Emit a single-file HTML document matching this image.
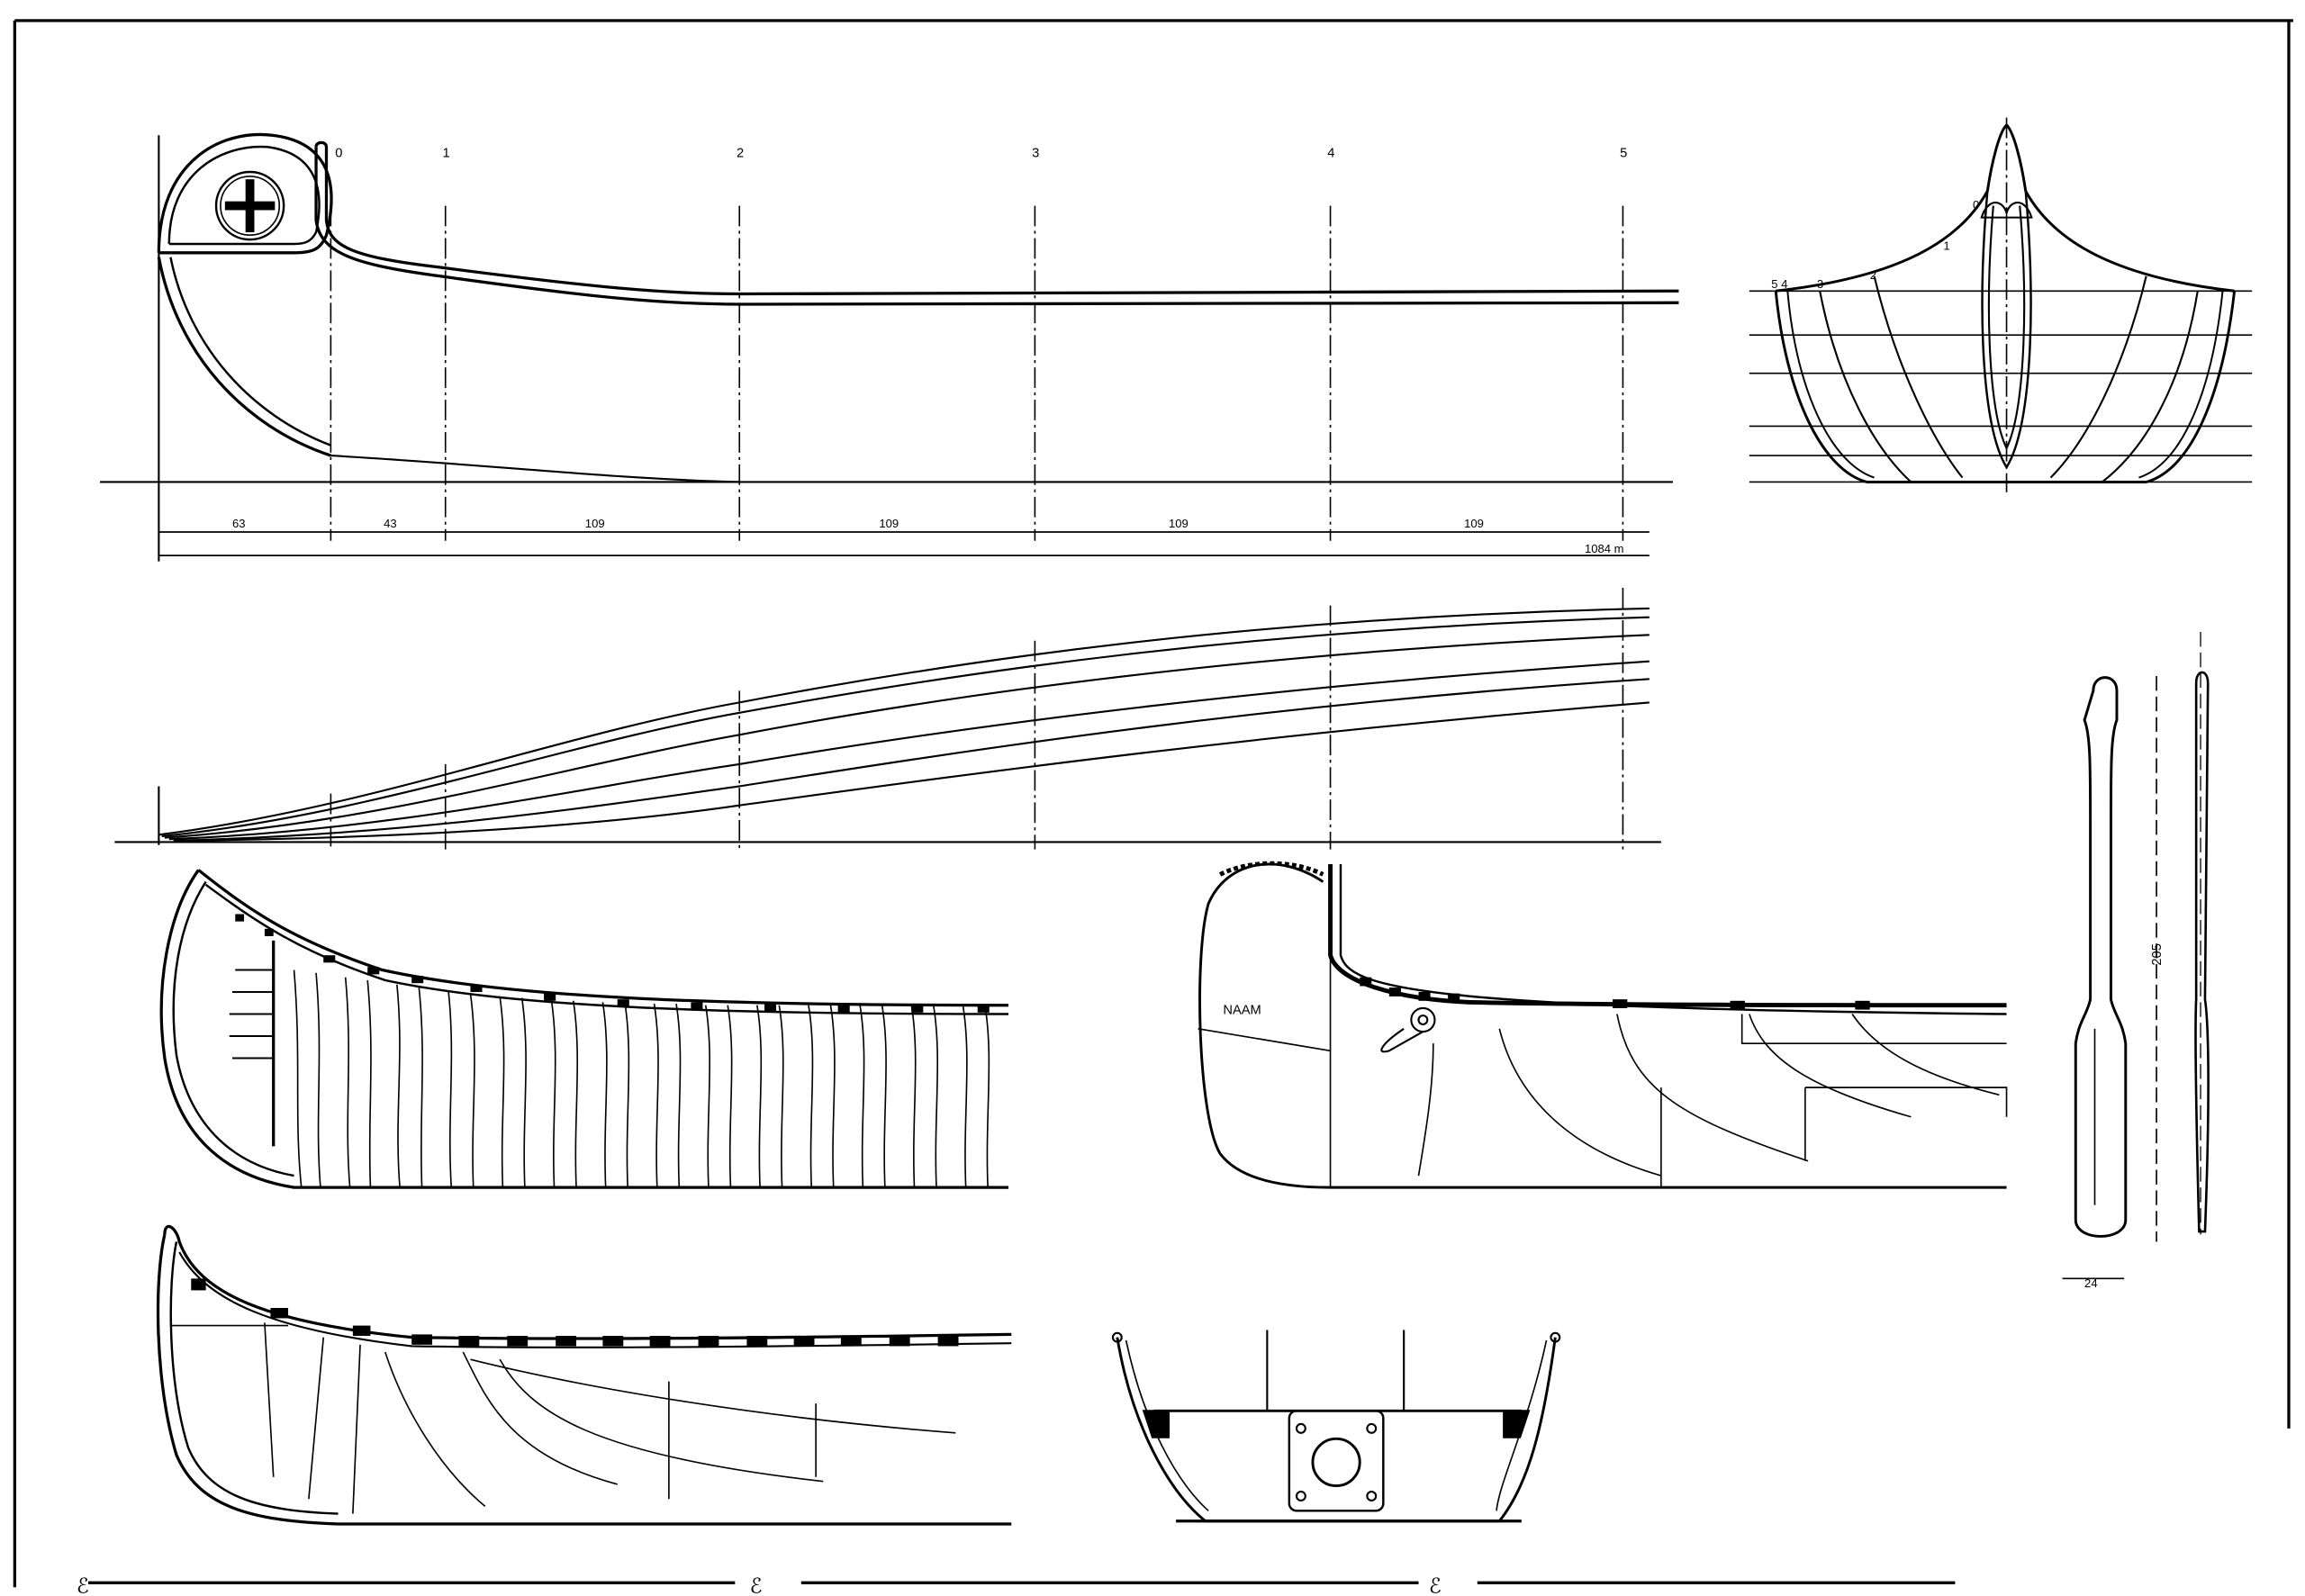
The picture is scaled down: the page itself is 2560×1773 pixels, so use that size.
<!DOCTYPE html>
<html><head><meta charset="utf-8"><style>
html,body{margin:0;padding:0;background:#fff;}
svg{display:block;}
text{font-family:"Liberation Sans",sans-serif;fill:#000;}
</style></head><body>
<svg width="2560" height="1773" viewBox="0 0 1568 1086" xmlns="http://www.w3.org/2000/svg" fill="none" stroke="#000" stroke-width="1.3">
<line x1="10" y1="14" x2="1560" y2="14" stroke-width="2"/>
<line x1="10" y1="14" x2="10" y2="1080" stroke-width="2"/>
<line x1="1557" y1="14" x2="1557" y2="972" stroke-width="2"/>
<line x1="60" y1="1077" x2="500" y2="1077" stroke-width="2"/>
<line x1="545" y1="1077" x2="965" y2="1077" stroke-width="2"/>
<line x1="1005" y1="1077" x2="1330" y2="1077" stroke-width="2"/>
<text x="52" y="1084" font-size="14" stroke="none">ℰ</text>
<text x="510" y="1084" font-size="14" stroke="none">ℰ</text>
<text x="972" y="1084" font-size="14" stroke="none">ℰ</text>

<line x1="108" y1="92" x2="108" y2="382"/>
<line x1="68" y1="328" x2="1138" y2="328"/>
<g stroke-dasharray="14,3,2,3" stroke-width="1">
<line x1="225" y1="140" x2="225" y2="368"/>
<line x1="303" y1="140" x2="303" y2="368"/>
<line x1="503" y1="140" x2="503" y2="368"/>
<line x1="704" y1="140" x2="704" y2="368"/>
<line x1="905" y1="140" x2="905" y2="368"/>
<line x1="1104" y1="140" x2="1104" y2="368"/>
</g>
<g font-size="9" stroke="none">
<text x="228" y="107">0</text><text x="301" y="107">1</text><text x="501" y="107">2</text>
<text x="702" y="107">3</text><text x="903" y="107">4</text><text x="1102" y="107">5</text>
</g>
<path d="M108 172 C108 110 150 88 185 92 C220 96 232 120 222 160 C218 170 212 172 200 172 L108 172" stroke-width="2"/>
<path d="M115 166 C115 118 150 98 182 100 C212 104 222 125 215 158 C212 164 208 166 200 166 L115 166" stroke-width="1.5"/>
<circle cx="170" cy="140" r="23" stroke-width="1.5"/>
<circle cx="170" cy="140" r="20" stroke-width="1"/>
<rect x="167" y="122" width="6" height="36" fill="#000" stroke="none"/>
<rect x="153" y="137" width="34" height="6" fill="#000" stroke="none"/>
<path d="M215 100 C215 96 222 96 222 100 L222 150 C224 168 240 175 300 182 C400 195 450 200 503 200 L1142 198" stroke-width="2"/>
<path d="M215 100 L215 150 C218 172 240 180 300 188 C400 202 450 207 503 207 L1142 206" stroke-width="2"/>
<path d="M108 175 C120 240 165 290 225 310" stroke-width="2"/>
<path d="M116 175 C128 235 170 282 225 303" stroke-width="1.5"/>
<path d="M225 310 C330 316 420 326 503 328"/>
<line x1="108" y1="362" x2="1122" y2="362" stroke-width="1"/>
<line x1="108" y1="378" x2="1122" y2="378" stroke-width="1"/>
<g font-size="8" stroke="none">
<text x="158" y="359">63</text><text x="261" y="359">43</text><text x="398" y="359">109</text>
<text x="598" y="359">109</text><text x="795" y="359">109</text><text x="996" y="359">109</text>
<text x="1078" y="376">1084 m</text>
</g>

<line x1="108" y1="535" x2="108" y2="575"/>
<line x1="78" y1="573" x2="1130" y2="573"/>
<g stroke-dasharray="14,3,2,3" stroke-width="1">
<line x1="225" y1="540" x2="225" y2="578"/>
<line x1="303" y1="520" x2="303" y2="578"/>
<line x1="503" y1="470" x2="503" y2="578"/>
<line x1="704" y1="436" x2="704" y2="578"/>
<line x1="905" y1="412" x2="905" y2="578"/>
<line x1="1104" y1="400" x2="1104" y2="578"/>
</g>
<path d="M108 568 C250 550 380 500 503 478 C650 450 850 420 1122 414"/>
<path d="M110 569 C250 555 380 507 503 485 C650 458 850 428 1122 420"/>
<path d="M112 570 C260 560 390 520 503 500 C650 472 850 444 1122 432"/>
<path d="M115 571 C270 565 400 535 503 520 C650 495 850 468 1122 450"/>
<path d="M118 572 C280 568 410 548 503 535 C650 512 850 480 1122 462"/>
<path d="M122 572 C300 570 420 560 503 548 C650 528 850 500 1122 478"/>

<line x1="1365" y1="80" x2="1365" y2="335" stroke-dasharray="14,3,2,3" stroke-width="1"/>
<g stroke-width="1">
<line x1="1190" y1="198" x2="1532" y2="198"/>
<line x1="1190" y1="228" x2="1532" y2="228"/>
<line x1="1190" y1="254" x2="1532" y2="254"/>
<line x1="1190" y1="290" x2="1532" y2="290"/>
<line x1="1190" y1="310" x2="1532" y2="310"/>
<line x1="1190" y1="328" x2="1532" y2="328"/>
</g>
<path d="M1208 198 C1215 270 1240 320 1270 328 L1460 328 C1490 320 1512 270 1520 198" stroke-width="1.8"/>
<path d="M1216 198 C1222 265 1245 315 1275 325 M1512 198 C1505 265 1485 315 1455 325" stroke-width="1.2"/>
<path d="M1238 198 C1250 260 1275 305 1300 328 M1495 198 C1485 260 1460 305 1430 328"/>
<path d="M1275 188 C1290 250 1315 300 1335 325 M1460 188 C1445 250 1420 300 1395 325"/>
<path d="M1208 198 C1280 190 1330 170 1352 130 C1355 110 1360 90 1365 85 C1370 90 1375 110 1378 130 C1400 170 1450 190 1520 198" stroke-width="1.8"/>
<path d="M1352 130 C1345 210 1348 290 1365 318 C1382 290 1385 210 1378 130" stroke-width="1.5"/>
<path d="M1356 140 C1350 210 1353 280 1365 305 C1377 280 1380 210 1374 140"/>
<path d="M1348 148 C1352 135 1362 135 1365 145 C1368 135 1378 135 1382 148 Z"/>
<g font-size="8" stroke="none">
<text x="1205" y="196">5 4</text><text x="1236" y="196">3</text><text x="1272" y="190">2</text>
<text x="1322" y="170">1</text><text x="1342" y="142">0</text>
</g>

<path d="M1420 470 C1420 458 1436 458 1436 470 L1436 490 C1432 500 1432 520 1432 560 L1432 680 C1434 690 1440 695 1442 710 L1442 830 C1442 845 1408 845 1408 830 L1408 710 C1410 695 1416 690 1418 680 L1418 560 C1418 520 1418 500 1414 490 Z" stroke-width="1.8" transform="translate(4,0)"/>
<path d="M1425 700 L1425 820" stroke-width="1"/>
<line x1="1467" y1="460" x2="1467" y2="845" stroke-dasharray="10,4" stroke-width="1"/>
<text x="1463" y="650" font-size="9" stroke="none" transform="rotate(-90 1470 650)">205</text>
<line x1="1403" y1="870" x2="1445" y2="870" stroke-width="1"/>
<text x="1418" y="876" font-size="8" stroke="none">24</text>
<path d="M1494 465 C1494 455 1502 455 1502 465 L1500 680 C1503 700 1503 760 1500 838 L1496 838 C1494 760 1493 700 1494 680 Z" stroke-width="1.6"/>
<line x1="1497" y1="430" x2="1497" y2="840" stroke-dasharray="10,4" stroke-width="0.8"/>

<path d="M135 592 C115 620 105 670 112 720 C120 770 150 800 200 808 L686 808" stroke-width="2"/>
<path d="M140 600 C122 628 114 670 120 718 C128 762 155 792 200 800" stroke-width="1.5"/>
<path d="M135 592 C170 620 200 640 260 660 C350 680 500 684 686 684" stroke-width="2"/>
<path d="M140 602 C175 628 205 648 262 667 C350 686 500 690 686 690" stroke-width="1.5"/>
<line x1="186" y1="640" x2="186" y2="780" stroke-width="2"/>
<g stroke-width="1.2">
<path d="M160 660 h25 M158 675 h28 M156 690 h30 M156 705 h30 M158 720 h28"/>
</g>
<g fill="#000" stroke="none">
<rect x="160" y="622" width="6" height="5"/><rect x="180" y="632" width="6" height="5"/>
<rect x="220" y="650" width="8" height="5"/><rect x="250" y="658" width="8" height="5"/>
<rect x="280" y="664" width="8" height="5"/><rect x="320" y="670" width="8" height="5"/>
<rect x="370" y="676" width="8" height="5"/><rect x="420" y="680" width="8" height="5"/>
<rect x="470" y="682" width="8" height="5"/><rect x="520" y="683" width="8" height="5"/>
<rect x="570" y="684" width="8" height="5"/><rect x="620" y="684" width="8" height="5"/>
<rect x="665" y="684" width="8" height="5"/>
</g>
<g stroke-width="1">
<path d="M200 660 C205 720 200 760 205 808 M215 662 C220 720 214 760 218 808"/>
<path d="M235 665 C240 720 234 760 238 808 M250 667 C255 720 250 760 252 808"/>
<path d="M270 670 C275 720 268 760 272 808 M285 672 C290 720 285 760 287 808"/>
<path d="M305 674 C310 720 304 760 307 808 M320 676 C326 720 320 760 322 808"/>
<path d="M340 678 C346 720 340 760 342 808 M355 679 C361 720 355 760 357 808"/>
<path d="M375 680 C381 720 375 760 377 808 M390 681 C396 720 390 760 392 808"/>
<path d="M410 682 C416 720 410 760 412 808 M425 682 C431 720 425 760 427 808"/>
<path d="M445 683 C451 720 445 760 447 808 M460 683 C466 720 460 760 462 808"/>
<path d="M480 684 C486 720 480 760 482 808 M495 684 C501 720 495 760 497 808"/>
<path d="M515 684 C521 720 515 760 517 808 M530 684 C536 720 530 760 532 808"/>
<path d="M550 684 C556 720 550 760 552 808 M565 684 C571 720 565 760 567 808"/>
<path d="M585 684 C591 720 585 760 587 808 M600 684 C606 720 600 760 602 808"/>
<path d="M620 684 C626 720 620 760 622 808 M635 684 C641 720 635 760 637 808"/>
<path d="M655 684 C661 720 655 760 657 808 M670 684 C676 720 670 760 672 808"/>
</g>

<path d="M900 600 C870 580 835 585 822 615 C812 650 815 760 830 785 C845 805 880 808 905 808 L1365 808" stroke-width="1.8"/>
<path d="M905 588 L905 650 C910 668 950 680 1000 682 C1100 684 1250 684 1365 684" stroke-width="3"/>
<path d="M912 588 L912 650 C918 672 960 686 1365 690" stroke-width="1.5"/>
<path d="M830 595 C850 585 880 585 900 595" stroke-width="3" stroke-dasharray="3,2"/>
<line x1="905" y1="650" x2="905" y2="808" stroke-width="1"/>
<line x1="815" y1="700" x2="905" y2="715" stroke-width="1"/>
<text x="832" y="690" font-size="9" stroke="none">NAAM</text>
<circle cx="968" cy="694" r="8"/><circle cx="968" cy="694" r="3"/>
<path d="M955 700 C940 710 935 718 945 715 L968 702"/>
<g fill="#000" stroke="none">
<rect x="925" y="665" width="8" height="6"/><rect x="945" y="672" width="8" height="6"/>
<rect x="965" y="675" width="8" height="6"/><rect x="985" y="676" width="8" height="6"/>
<rect x="1097" y="680" width="10" height="6"/><rect x="1177" y="681" width="10" height="6"/>
<rect x="1262" y="681" width="10" height="6"/>
</g>
<g stroke-width="1">
<path d="M975 710 C975 740 970 770 965 800"/>
<path d="M1020 700 C1030 740 1060 780 1130 800"/>
<path d="M1100 690 C1110 740 1140 760 1230 790"/>
<path d="M1190 690 C1200 720 1230 740 1300 760"/>
<path d="M1260 690 C1280 720 1320 735 1360 745"/>
<path d="M1185 690 L1185 710 L1365 710 M1228 740 L1365 740 L1365 760 M1130 740 L1130 808 M1228 740 L1228 790"/>
</g>

<path d="M112 840 C105 870 105 940 120 990 C135 1025 170 1035 230 1037 L688 1037" stroke-width="2"/>
<path d="M120 845 C114 875 114 940 128 985 C142 1018 175 1028 230 1030" stroke-width="1.5"/>
<path d="M112 840 C112 830 120 835 122 845 C135 880 180 900 280 910 C400 912 550 910 688 908" stroke-width="2"/>
<path d="M122 852 C140 885 185 905 280 916 C400 918 550 916 688 914" stroke-width="1.3"/>
<g fill="#000" stroke="none">
<rect x="130" y="870" width="10" height="8"/><rect x="184" y="890" width="12" height="7"/>
<rect x="240" y="902" width="12" height="7"/><rect x="280" y="908" width="14" height="7"/>
<rect x="312" y="909" width="14" height="7"/><rect x="345" y="909" width="14" height="7"/>
<rect x="378" y="909" width="14" height="7"/><rect x="410" y="909" width="14" height="7"/>
<rect x="442" y="909" width="14" height="7"/><rect x="475" y="909" width="14" height="7"/>
<rect x="508" y="909" width="14" height="7"/><rect x="540" y="909" width="14" height="7"/>
<rect x="572" y="909" width="14" height="7"/><rect x="605" y="909" width="14" height="7"/>
<rect x="638" y="909" width="14" height="7"/>
</g>
<g stroke-width="1">
<line x1="116" y1="902" x2="196" y2="902"/>
<path d="M180 900 L186 1005 M220 910 L210 1020 M245 915 L240 1030 M262 920 C275 960 300 1000 330 1025"/>
<path d="M315 920 C330 950 345 990 420 1010 M340 925 C360 960 400 990 560 1008"/>
<path d="M320 925 C400 945 520 965 650 975 M455 940 L455 1020 M555 955 L555 1005"/>
</g>

<path d="M760 910 C770 970 795 1015 820 1035 L1020 1035 C1040 1010 1050 970 1058 910" stroke-width="1.8"/>
<path d="M766 912 C778 968 800 1008 822 1028 M1052 912 C1040 968 1020 1008 1018 1028" stroke-width="1"/>
<circle cx="760" cy="910" r="3"/><circle cx="1058" cy="910" r="3"/>
<line x1="785" y1="960" x2="1035" y2="960" stroke-width="1.8"/>
<line x1="800" y1="1035" x2="1035" y2="1035" stroke-width="2"/>
<path d="M778 960 L795 960 L795 978 L784 978 Z" fill="#000"/>
<path d="M1040 960 L1023 960 L1023 978 L1034 978 Z" fill="#000"/>
<line x1="862" y1="905" x2="862" y2="960"/>
<line x1="955" y1="905" x2="955" y2="960"/>
<rect x="877" y="960" width="64" height="68" rx="5" stroke-width="1.5"/>
<circle cx="909" cy="995" r="16" stroke-width="1.8"/>
<circle cx="885" cy="972" r="3"/><circle cx="933" cy="972" r="3"/>
<circle cx="885" cy="1018" r="3"/><circle cx="933" cy="1018" r="3"/>
</svg>
</body></html>
